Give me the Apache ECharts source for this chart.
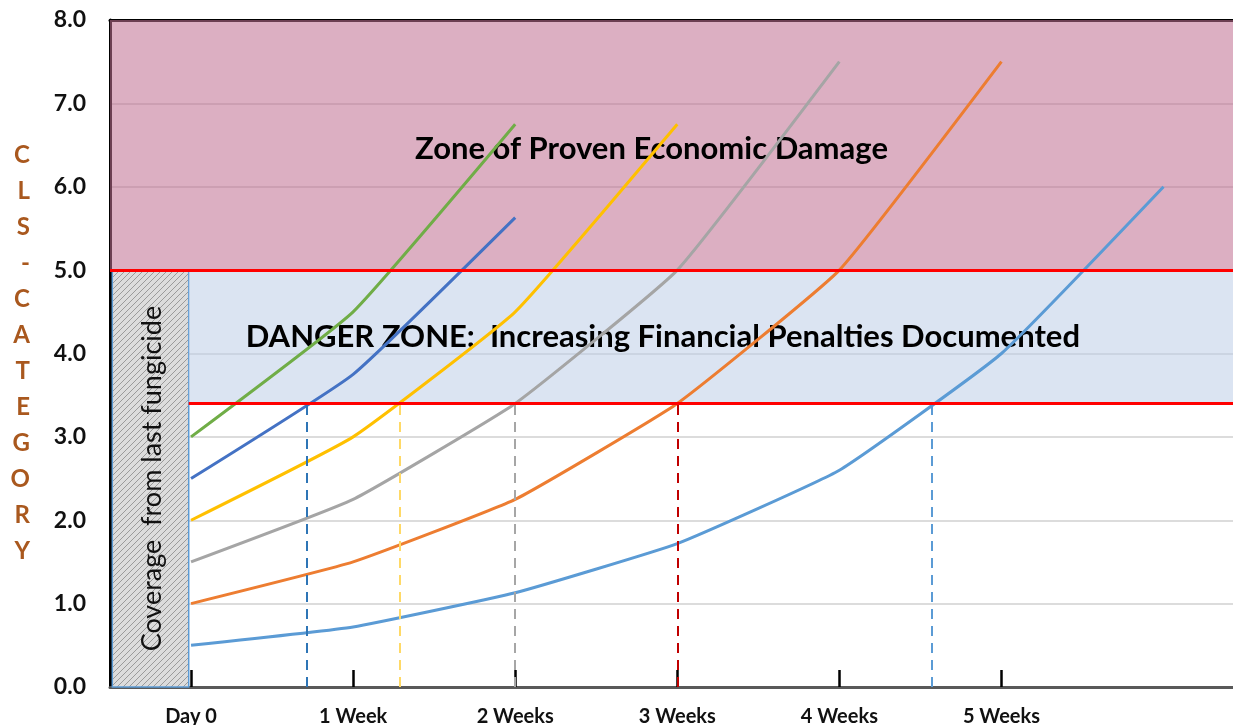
<!DOCTYPE html>
<html>
<head>
<meta charset="utf-8">
<script src="https://cdn.jsdelivr.net/npm/echarts@6.0.0/dist/echarts.min.js"></script>
<style>
  html, body { margin: 0; padding: 0; background: #fff; }
  #chart { width: 1233px; height: 725px; }
</style>
</head>
<body>
<div id="chart"></div>
<script>
  // x values are days after the last fungicide
  var days = [0, 7, 14, 21, 28, 35, 42];
  var weekTicks = [0, 7, 14, 21, 28, 35];
  var weekLabels = ['Day 0', '1 Week', '2 Weeks', '3 Weeks', '4 Weeks', '5 Weeks'];

  var curveLightBlue = [0.5, 0.72, 1.13, 1.72, 2.6, 4.0, 6.0];
  var curveOrange = [1.0, 1.5, 2.25, 3.4, 5.0, 7.5];
  var curveGray = [1.5, 2.25, 3.4, 5.0, 7.5];
  var curveYellow = [2.0, 3.0, 4.5, 6.75];
  var curveBlue = [2.5, 3.75, 5.63];
  var curveGreen = [3.0, 4.5, 6.75];

  var crossDays = [5, 9, 14, 21, 32];
  var crossColors = ['#2e75b6', '#ffd966', '#a6a6a6', '#c00000', '#5b9bd5'];

  var dangerLevel = 3.4;
  var damageLevel = 5.0;

  var xMin = -3.5, xMax = 45, yMax = 8;
  var coverStart = -3.4, coverEnd = -0.1;

  function pairs(vals) {
    return vals.map(function (v, i) { return [days[i], v]; });
  }

  // hatch pattern for the coverage box
  var hatch = document.createElement('canvas');
  hatch.width = 6; hatch.height = 6;
  var hc = hatch.getContext('2d');
  hc.fillStyle = '#dcdcdc';
  hc.fillRect(0, 0, 6, 6);
  hc.strokeStyle = '#9a9a9a';
  hc.lineWidth = 1;
  hc.beginPath();
  hc.moveTo(0, 6); hc.lineTo(6, 0);
  hc.moveTo(-1, 1); hc.lineTo(1, -1);
  hc.moveTo(5, 7); hc.lineTo(7, 5);
  hc.stroke();

  var FONT = 'Lato, "Open Sans", sans-serif';

  function curve(name, vals, color) {
    return {
      name: name, type: 'line', data: pairs(vals), smooth: 0.12,
      showSymbol: false, z: 2,
      lineStyle: { color: color, width: 3 }
    };
  }

  var chart = echarts.init(document.getElementById('chart'));
  chart.setOption({
    animation: false,
    grid: { left: 110, right: 0, top: 20, bottom: 38, outerBoundsMode: 'none', containLabel: false },
    xAxis: [{
      type: 'value', min: xMin, max: xMax,
      splitLine: { show: false },
      axisLine: { onZero: false, lineStyle: { color: '#595959', width: 3 } },
      axisTick: {
        customValues: weekTicks, inside: true, length: 17,
        lineStyle: { color: '#000', width: 2.5 }
      },
      axisLabel: {
        customValues: weekTicks, margin: 20,
        fontFamily: FONT, fontWeight: 'bold', fontSize: 20, color: '#111',
        formatter: function (v) { return weekLabels[weekTicks.indexOf(v)]; }
      }
    }, {
      type: 'value', min: xMin, max: xMax, position: 'top',
      axisLine: { show: true, onZero: false, lineStyle: { color: '#000', width: 3 } },
      axisTick: { show: false }, axisLabel: { show: false }, splitLine: { show: false }
    }],
    yAxis: {
      type: 'value', min: 0, max: yMax, interval: 1,
      name: 'CLS-CATEGORY'.split('').join('\n'),
      nameLocation: 'middle', nameGap: 80, nameRotate: 0,
      nameTextStyle: { color: '#a9581e', fontFamily: FONT, fontWeight: 'bold', fontSize: 24, lineHeight: 36 },
      axisLine: { show: true, onZero: false, lineStyle: { color: '#000', width: 3 } },
      axisTick: { show: false },
      splitLine: { lineStyle: { color: '#d0d0d0', width: 1.5 } },
      axisLabel: {
        margin: 24, fontFamily: FONT, fontWeight: 'bold', fontSize: 23, color: '#111',
        formatter: function (v) { return v.toFixed(1); }
      }
    },
    series: [
      curve('A', curveLightBlue, '#5b9bd5'),
      curve('B', curveOrange, '#ed7d31'),
      curve('C', curveGray, '#a5a5a5'),
      curve('D', curveYellow, '#ffc000'),
      curve('E', curveBlue, '#4472c4'),
      curve('F', curveGreen, '#70ad47'),
      {
        name: 'crossings', type: 'line', data: [], z: 2,
        markLine: {
          silent: true, symbol: 'none', label: { show: false },
          data: crossDays.map(function (d, i) {
            return [
              { coord: [d, 0], lineStyle: { color: crossColors[i], type: [10, 7], width: 2 } },
              { coord: [d, dangerLevel] }
            ];
          })
        }
      },
      {
        name: 'coverage', type: 'line', data: [], z: 2,
        markArea: {
          silent: true,
          data: [[
            {
              xAxis: coverStart, yAxis: 0,
              itemStyle: { color: { image: hatch, repeat: 'repeat' }, borderColor: '#5b9bd5', borderWidth: 1.5 },
              label: {
                show: true, position: 'inside', rotate: 90, offset: [0, 2],
                formatter: 'Coverage  from last fungicide',
                fontFamily: FONT, fontSize: 27, color: '#111'
              }
            },
            { xAxis: coverEnd, yAxis: damageLevel }
          ]]
        }
      },
      {
        name: 'zones', type: 'line', data: [], z: 3,
        markArea: {
          silent: true,
          data: [[
            {
              xAxis: xMin, yAxis: damageLevel,
              itemStyle: { color: 'rgba(193,113,147,0.56)' },
              label: {
                show: true, position: 'inside', offset: [-20, 4],
                formatter: 'Zone of Proven Economic Damage',
                fontFamily: FONT, fontWeight: 'bold', fontSize: 31, color: '#000'
              }
            },
            { xAxis: xMax, yAxis: yMax }
          ], [
            {
              xAxis: coverEnd, yAxis: dangerLevel,
              itemStyle: { color: 'rgba(190,206,232,0.55)' },
              label: {
                show: true, position: 'inside', offset: [-48, 0],
                formatter: 'DANGER ZONE:  Increasing Financial Penalties Documented',
                fontFamily: FONT, fontWeight: 'bold', fontSize: 31, color: '#000'
              }
            },
            { xAxis: xMax, yAxis: damageLevel }
          ]]
        }
      },
      {
        name: 'thresholds', type: 'line', data: [], z: 5,
        markLine: {
          silent: true, symbol: 'none', label: { show: false },
          lineStyle: { color: '#ff0000', width: 3, type: 'solid' },
          data: [
            [{ coord: [xMin, damageLevel] }, { coord: [xMax, damageLevel] }],
            [{ coord: [coverEnd, dangerLevel] }, { coord: [xMax, dangerLevel] }]
          ]
        }
      }
    ]
  });
  window.addEventListener('resize', function () { chart.resize(); });
</script>
</body>
</html>
